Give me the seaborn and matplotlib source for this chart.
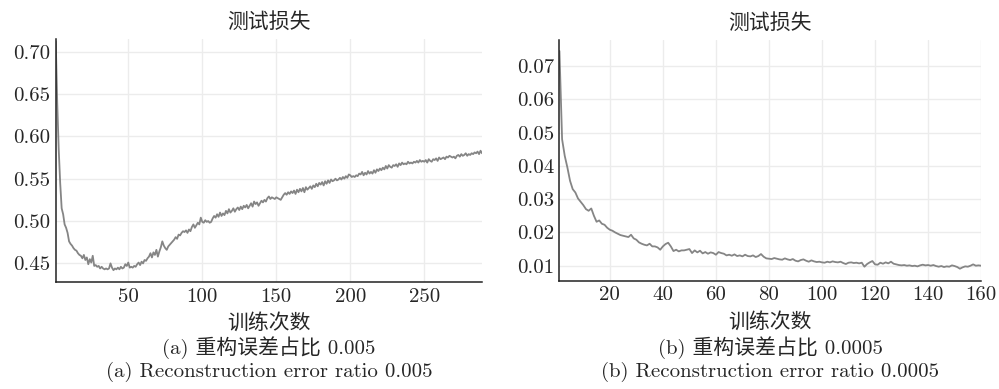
import numpy as np
import pandas as pd
import matplotlib
matplotlib.use("Agg")
import matplotlib.pyplot as plt
import seaborn as sns

# ======================================================================
# Test loss per epoch
# ======================================================================

# (a) reconstruction error ratio 0.005, epochs 1..289
loss_a = [
    0.712, 0.640, 0.585, 0.545, 0.515, 0.508, 0.496, 0.492, 0.486, 0.476,
    0.473, 0.471, 0.468, 0.466, 0.465, 0.462, 0.460, 0.459, 0.456, 0.460,
    0.454, 0.457, 0.449, 0.455, 0.451, 0.459, 0.447, 0.448, 0.446, 0.447,
    0.444, 0.446, 0.444, 0.443, 0.444, 0.443, 0.444, 0.450, 0.445, 0.442,
    0.444, 0.443, 0.445, 0.443, 0.446, 0.444, 0.445, 0.449, 0.447, 0.451,
    0.445, 0.446, 0.445, 0.447, 0.446, 0.449, 0.451, 0.448, 0.452, 0.450,
    0.454, 0.453, 0.456, 0.458, 0.462, 0.457, 0.463, 0.460, 0.466, 0.458,
    0.464, 0.469, 0.476, 0.471, 0.468, 0.466, 0.470, 0.472, 0.474, 0.476,
    0.478, 0.481, 0.479, 0.484, 0.483, 0.486, 0.488, 0.487, 0.489, 0.486,
    0.490, 0.488, 0.493, 0.496, 0.492, 0.495, 0.498, 0.496, 0.504, 0.499,
    0.498, 0.501, 0.499, 0.500, 0.498, 0.499, 0.503, 0.506, 0.504, 0.508,
    0.505, 0.510, 0.506, 0.509, 0.507, 0.512, 0.509, 0.514, 0.510, 0.512,
    0.515, 0.511, 0.514, 0.516, 0.513, 0.517, 0.514, 0.518, 0.516, 0.519,
    0.515, 0.518, 0.521, 0.517, 0.523, 0.520, 0.522, 0.518, 0.521, 0.524,
    0.522, 0.525, 0.523, 0.527, 0.529, 0.526, 0.528, 0.527, 0.526, 0.528,
    0.527, 0.526, 0.525, 0.528, 0.531, 0.533, 0.531, 0.534, 0.532, 0.535,
    0.533, 0.536, 0.532, 0.537, 0.534, 0.538, 0.535, 0.539, 0.534, 0.540,
    0.537, 0.539, 0.541, 0.538, 0.542, 0.540, 0.544, 0.541, 0.545, 0.543,
    0.546, 0.542, 0.547, 0.544, 0.548, 0.545, 0.549, 0.547, 0.548, 0.550,
    0.548, 0.549, 0.551, 0.549, 0.552, 0.550, 0.553, 0.551, 0.555, 0.554,
    0.552, 0.553, 0.552, 0.554, 0.553, 0.556, 0.555, 0.558, 0.554, 0.557,
    0.555, 0.559, 0.556, 0.558, 0.556, 0.560, 0.557, 0.561, 0.559, 0.562,
    0.560, 0.563, 0.561, 0.565, 0.562, 0.566, 0.564, 0.563, 0.566, 0.565,
    0.567, 0.564, 0.568, 0.566, 0.569, 0.567, 0.568, 0.567, 0.570, 0.568,
    0.569, 0.568, 0.570, 0.569, 0.571, 0.569, 0.572, 0.570, 0.571, 0.570,
    0.572, 0.569, 0.573, 0.571, 0.570, 0.573, 0.572, 0.574, 0.571, 0.575,
    0.573, 0.574, 0.575, 0.573, 0.576, 0.575, 0.577, 0.576, 0.575, 0.576,
    0.574, 0.577, 0.578, 0.576, 0.579, 0.577, 0.578, 0.580, 0.577, 0.579,
    0.578, 0.580, 0.579, 0.581, 0.580, 0.582, 0.579, 0.583, 0.580,
]

# (b) reconstruction error ratio 0.0005, epochs 1..160
loss_b = [
    0.0745, 0.0480, 0.0430, 0.0395, 0.0355, 0.0330, 0.0320, 0.0302, 0.0292, 0.0282,
    0.0270, 0.0265, 0.0272, 0.0250, 0.0232, 0.0236, 0.0226, 0.0223, 0.0214, 0.0208,
    0.0205, 0.0200, 0.0196, 0.0192, 0.0190, 0.0188, 0.0186, 0.0193, 0.0182, 0.0178,
    0.0170, 0.0166, 0.0163, 0.0161, 0.0166, 0.0158, 0.0158, 0.0155, 0.0148, 0.0158,
    0.0165, 0.0169, 0.0158, 0.0144, 0.0148, 0.0143, 0.0146, 0.0146, 0.0148, 0.0150,
    0.0138, 0.0146, 0.0140, 0.0145, 0.0137, 0.0141, 0.0136, 0.0140, 0.0138, 0.0133,
    0.0141, 0.0138, 0.0136, 0.0131, 0.0133, 0.0130, 0.0134, 0.0129, 0.0131, 0.0128,
    0.0133, 0.0129, 0.0128, 0.0131, 0.0126, 0.0129, 0.0135, 0.0127, 0.0122, 0.0121,
    0.0120, 0.0123, 0.0121, 0.0119, 0.0118, 0.0122, 0.0119, 0.0117, 0.0120, 0.0115,
    0.0113, 0.0117, 0.0119, 0.0115, 0.0112, 0.0116, 0.0113, 0.0111, 0.0112, 0.0110,
    0.0109, 0.0112, 0.0110, 0.0113, 0.0111, 0.0110, 0.0112, 0.0108, 0.0105, 0.0109,
    0.0110, 0.0108, 0.0109, 0.0107, 0.0109, 0.0097, 0.0105, 0.0110, 0.0114, 0.0104,
    0.0103, 0.0109, 0.0106, 0.0110, 0.0107, 0.0112, 0.0106, 0.0104, 0.0102, 0.0101,
    0.0102, 0.0100, 0.0101, 0.0099, 0.0100, 0.0098, 0.0101, 0.0103, 0.0101, 0.0102,
    0.0100, 0.0102, 0.0099, 0.0097, 0.0099, 0.0096, 0.0098, 0.0097, 0.0101, 0.0099,
    0.0096, 0.0091, 0.0095, 0.0098, 0.0097, 0.0100, 0.0104, 0.0100, 0.0101, 0.0100,
]

yticks_a = [0.45, 0.50, 0.55, 0.60, 0.65, 0.70]
xticks_a = [50, 100, 150, 200, 250]
yticks_b = [0.01, 0.02, 0.03, 0.04, 0.05, 0.06, 0.07]
xticks_b = [20, 40, 60, 80, 100, 120, 140, 160]

title = "测试损失"
xlabel = "训练次数"
captions_a = ["(a) 重构误差占比 0.005", "(a) Reconstruction error ratio 0.005"]
captions_b = ["(b) 重构误差占比 0.0005", "(b) Reconstruction error ratio 0.0005"]

df_a = pd.DataFrame({"epoch": np.arange(1, len(loss_a) + 1), "loss": loss_a})
df_b = pd.DataFrame({"epoch": np.arange(1, len(loss_b) + 1), "loss": loss_b})

# ======================================================================
# Plot
# ======================================================================

sns.set_style("white")
plt.rcParams["font.family"] = ["cmr10", "Noto Sans CJK SC", "DejaVu Sans"]
plt.rcParams["axes.unicode_minus"] = False
plt.rcParams["axes.formatter.use_mathtext"] = False

fs = 15
fig = plt.figure(figsize=(9.99, 3.89), dpi=100)
ax_a = fig.add_axes([0.0558, 0.275, 0.4267, 0.625])
ax_b = fig.add_axes([0.560, 0.2776, 0.4221, 0.6195])

panels = [
    (ax_a, df_a, (1, 289), (0.428, 0.715), xticks_a, yticks_a, captions_a),
    (ax_b, df_b, (1, 160), (0.0054, 0.0778), xticks_b, yticks_b, captions_b),
]

for ax, df, xlim, ylim, xt, yt, caps in panels:
    sns.lineplot(data=df, x="epoch", y="loss", color="#858585", linewidth=1.3, ax=ax)
    ax.set_xlim(*xlim)
    ax.set_ylim(*ylim)
    ax.set_xticks(xt)
    ax.set_yticks(yt)
    ax.set_xticklabels([str(v) for v in xt], fontsize=fs)
    ax.set_yticklabels(["{:.2f}".format(v) for v in yt], fontsize=fs)
    ax.grid(True, color="#ececec", linewidth=1.0)
    for side in ["top", "right"]:
        ax.spines[side].set_visible(False)
    for side in ["left", "bottom"]:
        ax.spines[side].set_color("#222222")
        ax.spines[side].set_linewidth(1.1)
    ax.tick_params(direction="in", length=5, width=1, color="#222222", pad=4)
    ax.set_title(title, fontsize=fs, pad=8)
    ax.set_xlabel(xlabel, fontsize=fs, labelpad=5)
    ax.set_ylabel("")

    # captions under each panel
    pos = ax.get_position()
    cx = (pos.x0 + pos.x1) / 2
    fig.text(cx, 1 - 348 / 389, caps[0], ha="center", va="center", fontsize=fs)
    fig.text(cx, 1 - 372 / 389, caps[1], ha="center", va="center", fontsize=fs)

fig.savefig("out.png", dpi=100)
